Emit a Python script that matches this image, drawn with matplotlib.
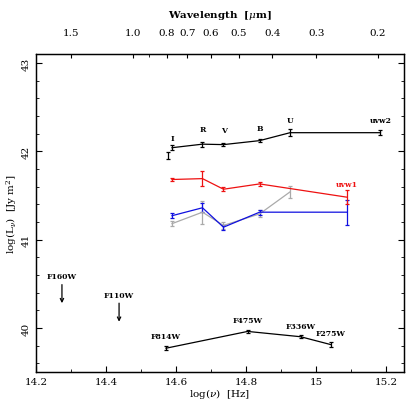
import numpy as np
import matplotlib
matplotlib.use("Agg")
import matplotlib.pyplot as plt
from matplotlib.ticker import MultipleLocator

plt.rcParams['font.family'] = ['DejaVu Serif']
plt.rcParams['mathtext.fontset'] = 'dejavuserif'

# Swift (black) series
swift_x = [14.588, 14.675, 14.735, 14.838, 14.925, 15.183]
swift_y = [42.04, 42.08, 42.075, 42.12, 42.21, 42.21]
swift_e = [0.03, 0.03, 0.02, 0.02, 0.04, 0.03]
swift_lbl = ["I", "R", "V", "B", "U", "uvw2"]
extra_I_x, extra_I_y, extra_I_e = 14.578, 41.95, 0.04

# Red series
red_x = [14.588, 14.675, 14.735, 14.838, 15.087]
red_y = [41.68, 41.69, 41.57, 41.63, 41.48]
red_e = [0.02, 0.085, 0.02, 0.02, 0.08]

# Blue series
blue_x = [14.588, 14.675, 14.735, 14.838, 15.087]
blue_y = [41.27, 41.36, 41.14, 41.31, 41.31]
blue_e = [0.03, 0.05, 0.03, 0.03, 0.14]

# Grey series
grey_x = [14.588, 14.675, 14.735, 14.838, 14.925]
grey_y = [41.18, 41.31, 41.16, 41.29, 41.54]
grey_e = [0.03, 0.13, 0.04, 0.04, 0.07]

# HST series (bottom)
hst_x = [14.571, 14.804, 14.955, 15.042]
hst_y = [39.77, 39.96, 39.90, 39.81]
hst_e = [0.02, 0.02, 0.02, 0.03]
hst_lbl = ["F814W", "F475W", "F336W", "F275W"]

# Upper limits
lim_x = [14.274, 14.437]
lim_y = [40.49, 40.28]
lim_lbl = ["F160W", "F110W"]

wavelengths = [1.5, 1.0, 0.8, 0.7, 0.6, 0.5, 0.4, 0.3, 0.2]
wl_minor = [0.9]

fig = plt.figure(figsize=(4.07, 4.02), dpi=100)
ax = fig.add_axes([0.0885, 0.072, 0.904, 0.791])

ekw = dict(capsize=1.5, elinewidth=0.9, lw=0.9, capthick=0.9)
ax.errorbar(grey_x, grey_y, yerr=grey_e, color='#aaaaaa', **ekw)
ax.errorbar(blue_x, blue_y, yerr=blue_e, color='#1010e0', **ekw)
ax.errorbar(red_x, red_y, yerr=red_e, color='#ee1111', **ekw)
ax.errorbar(swift_x, swift_y, yerr=swift_e, color='black', **ekw)
ax.errorbar([extra_I_x], [extra_I_y], yerr=[extra_I_e], color='black', fmt='none', **ekw)
ax.errorbar(hst_x, hst_y, yerr=hst_e, color='black', **ekw)

for x, y in zip(lim_x, lim_y):
    ax.annotate('', xy=(x, y - 0.21), xytext=(x, y),
                arrowprops=dict(arrowstyle='->', color='black', lw=0.9,
                                mutation_scale=6, shrinkA=0, shrinkB=0))

tkw = dict(fontsize=5.5, fontweight='bold', ha='center', va='bottom')
lbl_dy = [0.06, 0.13, 0.12, 0.10, 0.10, 0.10]
for x, y, s, d in zip(swift_x, swift_y, swift_lbl, lbl_dy):
    ax.text(x, y + d, s, **tkw)
ax.text(red_x[-1], red_y[-1] + 0.1, "uvw1", color='#ee1111', **tkw)
hst_dy = [0.09, 0.08, 0.08, 0.09]
for x, y, s, d in zip(hst_x, hst_y, hst_lbl, hst_dy):
    ax.text(x, y + d, s, **tkw)
for x, y, s in zip(lim_x, lim_y, lim_lbl):
    ax.text(x, y + 0.05, s, **tkw)

ax.set_xlim(14.2, 15.25)
ax.set_ylim(39.5, 43.1)
ax.xaxis.set_major_locator(MultipleLocator(0.2))
ax.xaxis.set_minor_locator(MultipleLocator(0.1))
ax.yaxis.set_major_locator(MultipleLocator(1))
ax.yaxis.set_minor_locator(MultipleLocator(0.2))
ax.set_xticks([14.2, 14.4, 14.6, 14.8, 15.0, 15.2])
ax.set_xticklabels(["14.2", "14.4", "14.6", "14.8", "15", "15.2"])
ax.tick_params(which='both', direction='in', top=False, right=True, labelsize=7.5)
ax.tick_params(which='major', length=4)
ax.tick_params(which='minor', length=2)
for lab in ax.get_yticklabels():
    lab.set_rotation(90)
    lab.set_va('center')
ax.set_xlabel(r'log($\nu$)  [Hz]', fontsize=7.5, labelpad=0)
ax.set_ylabel(r'log(L$_\nu$)  [Jy m$^2$]', fontsize=7.5, labelpad=2)

ax2 = ax.twiny()
ax2.set_xlim(ax.get_xlim())
c = 2.998e14
ax2.set_xticks([np.log10(c / w) for w in wavelengths])
ax2.set_xticklabels(["%.1f" % w for w in wavelengths])
ax2.set_xticks([np.log10(c / w) for w in wl_minor], minor=True)
ax2.tick_params(which='both', direction='in', labelsize=7.5, pad=12)
ax2.tick_params(which='major', length=3)
ax2.tick_params(which='minor', length=2)
ax2.set_xlabel(r'Wavelength  [$\mu$m]', fontsize=7.5, fontweight='bold', labelpad=8)

for a in (ax, ax2):
    for s in a.spines.values():
        s.set_linewidth(0.9)

fig.savefig("out.png", dpi=100)
